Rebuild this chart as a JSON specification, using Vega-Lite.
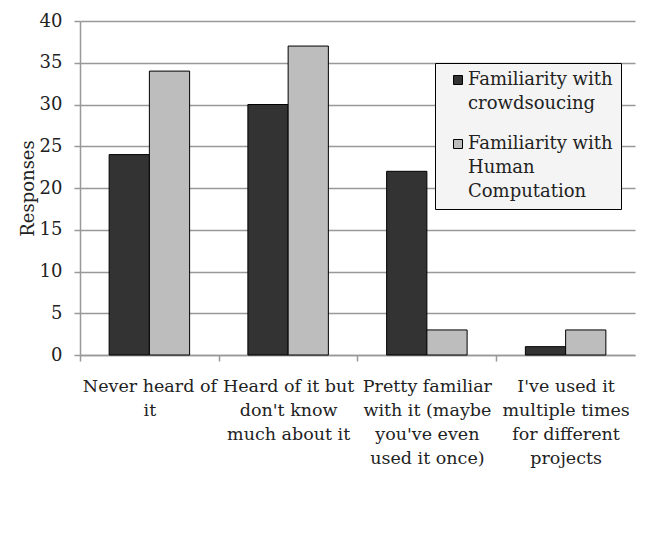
{
  "$schema": "https://vega.github.io/schema/vega-lite/v6.json",
  "width": 555,
  "height": 334,
  "padding": {"left": 80, "top": 21, "right": 14, "bottom": 180},
  "autosize": {"type": "none"},
  "background": "white",
  "data": {
    "values": [
      {"category": "Never heard of|it", "series": "Familiarity with|crowdsoucing", "responses": 24},
      {"category": "Never heard of|it", "series": "Familiarity with|Human|Computation", "responses": 34},
      {"category": "Heard of it but|don't know|much about it", "series": "Familiarity with|crowdsoucing", "responses": 30},
      {"category": "Heard of it but|don't know|much about it", "series": "Familiarity with|Human|Computation", "responses": 37},
      {"category": "Pretty familiar|with it (maybe|you've even|used it once)", "series": "Familiarity with|crowdsoucing", "responses": 22},
      {"category": "Pretty familiar|with it (maybe|you've even|used it once)", "series": "Familiarity with|Human|Computation", "responses": 3},
      {"category": "I've used it|multiple times|for different|projects", "series": "Familiarity with|crowdsoucing", "responses": 1},
      {"category": "I've used it|multiple times|for different|projects", "series": "Familiarity with|Human|Computation", "responses": 3}
    ]
  },
  "mark": {"type": "bar", "stroke": "black", "strokeWidth": 1},
  "encoding": {
    "x": {
      "field": "category",
      "type": "nominal",
      "sort": null,
      "scale": {"paddingInner": 0.42, "paddingOuter": 0.21},
      "axis": {
        "title": null,
        "labelAngle": 0,
        "labelExpr": "split(datum.value, '|')",
        "labelFont": "DejaVu Serif",
        "labelFontSize": 17.5,
        "labelColor": "#222",
        "labelPadding": 16,
        "labelBaseline": "top",
        "labelOffset": 69.4,
        "domainColor": "#999",
        "domainWidth": 1.5,
        "tickColor": "#999",
        "tickWidth": 1.5,
        "tickSize": 6,
        "tickOffset": -69.4,
        "labelLimit": 200
      }
    },
    "xOffset": {"field": "series", "type": "nominal", "sort": null},
    "y": {
      "field": "responses",
      "type": "quantitative",
      "scale": {"domain": [0, 40]},
      "axis": {
        "title": "Responses",
        "titleFont": "DejaVu Serif",
        "titleFontSize": 18,
        "titleFontWeight": "normal",
        "titleColor": "#222",
        "titleX": -43,
        "titleY": 167,
        "titleAlign": "center",
        "titleBaseline": "bottom",
        "values": [0, 5, 10, 15, 20, 25, 30, 35, 40],
        "labelFont": "DejaVu Serif",
        "labelFontSize": 18,
        "labelColor": "#222",
        "labelPadding": 12,
        "domainColor": "#999",
        "domainWidth": 1.5,
        "tickColor": "#999",
        "tickWidth": 1.5,
        "tickSize": 6,
        "gridColor": "#999",
        "gridWidth": 1.5
      }
    },
    "fill": {
      "field": "series",
      "type": "nominal",
      "sort": null,
      "scale": {"range": ["#333333", "#bdbdbd"]},
      "legend": {
        "title": null,
        "orient": "none",
        "legendX": 355,
        "legendY": 42,
        "direction": "vertical",
        "fillColor": "#f4f4f4",
        "strokeColor": "black",
        "padding": 8,
        "rowPadding": 22,
        "symbolType": "square",
        "symbolSize": 81,
        "symbolOffset": 6,
        "symbolStrokeColor": "black",
        "symbolStrokeWidth": 1,
        "labelExpr": "split(datum.value, '|')",
        "labelFont": "DejaVu Serif",
        "labelFontSize": 18,
        "labelColor": "#222",
        "labelLimit": 200,
        "labelOffset": 1
      }
    }
  },
  "config": {
    "view": {"stroke": null},
    "style": {"guide-label": {"lineHeight": 24}}
  }
}
